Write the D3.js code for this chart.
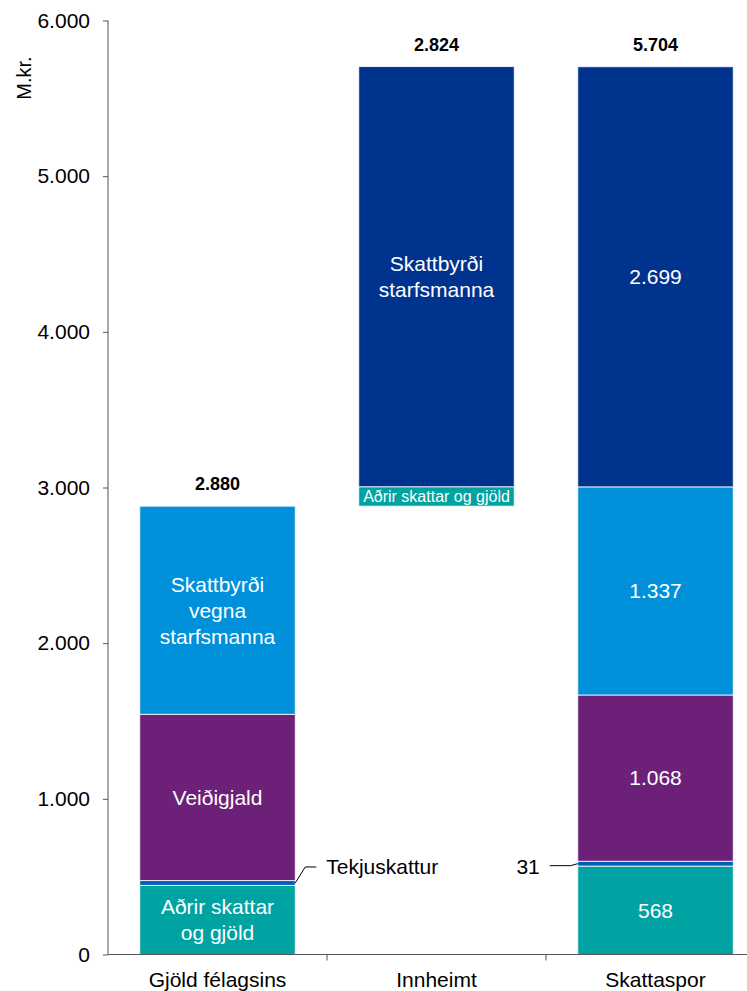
<!DOCTYPE html>
<meta charset="utf-8">
<style>
body { margin: 0; background: #fff; }
svg text { font-family: "Liberation Sans", Arial, sans-serif; }
.axis path, .axis line { stroke: #555; }
.axis text { font-size: 21px; fill: #000; }
</style>
<svg width="747" height="991"></svg>
<script src="https://d3js.org/d3.v7.min.js"></script>
<script>

// data
var categories = ["Gjöld félagsins", "Innheimt", "Skattaspor"];
var base = [0, 2880, 0];                 // where each stack starts
var adrir = [444, 125, 568];             // Aðrir skattar og gjöld
var tekjuskattur = [31, 0, 31];
var veidigjald = [1068, 0, 1068];
var vegnaStarfsmanna = [1337, 0, 1337];  // Skattbyrði vegna starfsmanna
var starfsmanna = [0, 2699, 2699];       // Skattbyrði starfsmanna
var totals = [2880, 2824, 5704];
var yTicks = [0, 1000, 2000, 3000, 4000, 5000, 6000];

var seriesList = [
  {key: "adrir", values: adrir, color: "#00A3A1"},
  {key: "tekjuskattur", values: tekjuskattur, color: "#005EB8"},
  {key: "veidigjald", values: veidigjald, color: "#6D2077"},
  {key: "vegna", values: vegnaStarfsmanna, color: "#0091DA"},
  {key: "starfsmanna", values: starfsmanna, color: "#00338D"}
];

var svg = d3.select("svg");

var x = d3.scaleBand()
    .domain(categories)
    .range([108, 765])
    .paddingInner(0.29)
    .paddingOuter(0.145);

var y = d3.scaleLinear()
    .domain([0, 6000])
    .range([954.5, 20.5]);

var fmt = function(v) { return d3.format(",")(v).replace(/,/g, "."); };

// build segments
var segs = [];
categories.forEach(function(c, i) {
  var acc = base[i];
  seriesList.forEach(function(s) {
    var v = s.values[i];
    if (v > 0) {
      segs.push({cat: c, i: i, key: s.key, y0: acc, y1: acc + v, v: v, color: s.color});
      acc += v;
    }
  });
});

svg.append("g")
  .selectAll("rect")
  .data(segs)
  .enter().append("rect")
    .attr("x", function(d) { return x(d.cat); })
    .attr("width", x.bandwidth())
    .attr("y", function(d) { return y(d.y1); })
    .attr("height", function(d) { return y(d.y0) - y(d.y1); })
    .attr("fill", function(d) { return d.color; })
    .attr("stroke", "#fff")
    .attr("stroke-opacity", 0.8)
    .attr("stroke-width", 1);

// axes
var yAxis = svg.append("g")
    .attr("class", "axis")
    .attr("transform", "translate(108,0)")
    .call(d3.axisLeft(y).tickValues(yTicks).tickSize(5).tickPadding(13).tickFormat(fmt));
yAxis.select(".domain").attr("d", "M0," + y(0) + "V" + y(6000));

var xAxis = svg.append("g")
    .attr("class", "axis")
    .attr("transform", "translate(0," + y(0) + ")");
xAxis.append("line")
    .attr("x1", 108).attr("x2", 747)
    .attr("stroke", "#555");
xAxis.selectAll(".sep")
  .data(categories.slice(1))
  .enter().append("line")
    .attr("x1", function(d) { return x(d) - x.step() * x.paddingInner() / 2; })
    .attr("x2", function(d) { return x(d) - x.step() * x.paddingInner() / 2; })
    .attr("y1", 0).attr("y2", 6)
    .attr("stroke", "#555");
xAxis.selectAll(".cat")
  .data(categories)
  .enter().append("text")
    .attr("x", function(d) { return x(d) + x.bandwidth() / 2; })
    .attr("y", 32)
    .attr("text-anchor", "middle")
    .style("font-size", "21px")
    .text(function(d) { return d; });

svg.append("text")
    .attr("transform", "translate(31,78) rotate(-90)")
    .attr("text-anchor", "middle")
    .style("font-size", "20px")
    .text("M.kr.");

// totals
svg.selectAll(".total")
  .data(categories)
  .enter().append("text")
    .attr("x", function(d) { return x(d) + x.bandwidth() / 2; })
    .attr("y", function(d, i) { return y(base[i] + totals[i]) - 16; })
    .attr("text-anchor", "middle")
    .style("font-size", "18px")
    .style("font-weight", "bold")
    .text(function(d, i) { return fmt(totals[i]); });

// labels inside segments
function segOf(i, key) {
  return segs.filter(function(s) { return s.i === i && s.key === key; })[0];
}
var inner = [
  {i: 0, key: "adrir", lines: ["Aðrir skattar", "og gjöld"], size: 21},
  {i: 0, key: "veidigjald", lines: ["Veiðigjald"], size: 21},
  {i: 0, key: "vegna", lines: ["Skattbyrði", "vegna", "starfsmanna"], size: 21},
  {i: 1, key: "adrir", lines: ["Aðrir skattar og gjöld"], size: 16},
  {i: 1, key: "starfsmanna", lines: ["Skattbyrði", "starfsmanna"], size: 21},
  {i: 2, key: "adrir", lines: [fmt(adrir[2])], size: 21},
  {i: 2, key: "veidigjald", lines: [fmt(veidigjald[2])], size: 21},
  {i: 2, key: "vegna", lines: [fmt(vegnaStarfsmanna[2])], size: 21},
  {i: 2, key: "starfsmanna", lines: [fmt(starfsmanna[2])], size: 21}
];
inner.forEach(function(l) {
  var s = segOf(l.i, l.key);
  var cx = x(categories[l.i]) + x.bandwidth() / 2;
  var cy = (y(s.y0) + y(s.y1)) / 2;
  var lh = 26;
  var t = svg.append("text")
      .attr("text-anchor", "middle")
      .attr("fill", "#fff")
      .style("font-size", l.size + "px");
  l.lines.forEach(function(line, k) {
    t.append("tspan")
      .attr("x", cx)
      .attr("y", cy + (k - (l.lines.length - 1) / 2) * lh)
      .attr("dy", "0.35em")
      .text(line);
  });
});

// leader labels for Tekjuskattur
var s0 = segOf(0, "tekjuskattur");
var x0 = x(categories[0]) + x.bandwidth();
var yc0 = (y(s0.y0) + y(s0.y1)) / 2;
svg.append("path")
    .attr("d", "M" + x0 + "," + yc0 + "L" + (x0 + 10) + "," + (yc0 - 16) + "H" + (x0 + 21))
    .attr("fill", "none").attr("stroke", "#000").attr("stroke-width", 1);
svg.append("text")
    .attr("x", x0 + 31).attr("y", yc0 - 16).attr("dy", "0.35em")
    .style("font-size", "21px")
    .text("Tekjuskattur");

var s2 = segOf(2, "tekjuskattur");
var x2 = x(categories[2]);
var yc2 = (y(s2.y0) + y(s2.y1)) / 2;
svg.append("path")
    .attr("d", "M" + x2 + "," + yc2 + "L" + (x2 - 7) + "," + (yc2 + 2) + "H" + (x2 - 28))
    .attr("fill", "none").attr("stroke", "#000").attr("stroke-width", 1);
svg.append("text")
    .attr("x", x2 - 38).attr("y", yc2 + 3).attr("dy", "0.35em")
    .attr("text-anchor", "end")
    .style("font-size", "21px")
    .text(fmt(tekjuskattur[2]));

</script>
